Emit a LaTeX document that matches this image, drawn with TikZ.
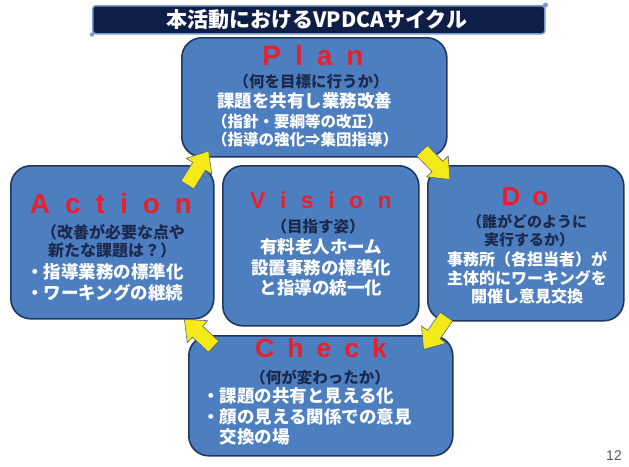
\documentclass[tikz,border=0pt]{standalone}
\usepackage{fontspec}
\newfontfamily\jpf{Noto Sans CJK JP}
\newfontfamily\hdf{Liberation Sans}
\newcommand\fsz[1]{\fontsize{#1}{#1}\selectfont}
\definecolor{boxfill}{HTML}{4D7FC0}
\definecolor{boxline}{HTML}{1F3763}
\definecolor{tfill}{HTML}{0E1E47}
\definecolor{tborder}{HTML}{7A9ACB}
\definecolor{headred}{HTML}{E8202A}
\definecolor{subnavy}{HTML}{1B2A4E}
\definecolor{yel}{HTML}{F4EA1A}
\definecolor{yelline}{HTML}{5A6478}
\definecolor{pgray}{HTML}{595959}
\tikzset{
  stagebox/.style={draw=boxline, fill=boxfill, line width=1.6pt, rounded corners=20pt, anchor=north west, inner sep=0pt},
  head/.style={text=headred, inner sep=0pt},
  subt/.style={text=subnavy, inner sep=0pt},
  bodyt/.style={text=white, inner sep=0pt},
  yarrow/.pic={\draw[fill=yel, draw=yelline, line width=0.6pt, line join=miter]
    (-20,-7.5) -- (2,-7.5) -- (2,-15) -- (20,0) -- (2,15) -- (2,7.5) -- (-20,7.5) -- cycle;}
}
\begin{document}
\begin{tikzpicture}[x=1pt,y=-1pt]
\fill[white] (0,0) rectangle (629,466);
\useasboundingbox (0,0) rectangle (629,466);

% title bar
\node[draw=tborder, fill=tfill, line width=1.5pt, rounded corners=3pt, minimum width=452pt, minimum height=28pt, anchor=north west, inner sep=0pt] (tbar) at (92,5) {};
\fill[tborder] (tbar.north east) circle (2.5pt);
\fill[tborder] (tbar.south west) circle (2.2pt);
\node[text=white, inner sep=0pt, font=\jpf\bfseries\fsz{21}] (title) at ([xshift=-2pt]tbar.center) {本活動におけるVPDCAサイクル};

% boxes
\node[stagebox, minimum width=265pt, minimum height=119pt] (plan) at (181,37) {};
\node[stagebox, minimum width=203pt, minimum height=153pt] (action) at (10,165) {};
\node[stagebox, minimum width=196pt, minimum height=160pt] (vision) at (222,165) {};
\node[stagebox, minimum width=196pt, minimum height=155pt] (do) at (427,165) {};
\node[stagebox, minimum width=264pt, minimum height=120pt] (check) at (188,335) {};

% Plan
\node[head, font=\hdf\bfseries\fsz{28}] (planh) at (313,55) {P\hspace{14pt}l\hspace{14pt}a\hspace{14pt}n};
\node[subt, font=\jpf\bfseries\fsz{15.5}] (plans) at (311,82) {（何を目標に行うか）};
\node[bodyt, font=\jpf\bfseries\fsz{17.5}, anchor=west] (planb1) at (217,101) {課題を共有し業務改善};
\node[bodyt, font=\jpf\bfseries\fsz{15.5}, anchor=west] (planb2) at (212,122) {（指針・要綱等の改正）};
\node[bodyt, font=\jpf\bfseries\fsz{15.5}, anchor=west] (planb3) at (212,140) {（指導の強化⇒集団指導）};

% Action
\node[head, font=\hdf\bfseries\fsz{28}] (acth) at (111,203) {A\hspace{15pt}c\hspace{15pt}t\hspace{15pt}i\hspace{15pt}o\hspace{15pt}n};
\node[subt, font=\jpf\bfseries\fsz{16}] (acts1) at (113,232) {（改善が必要な点や};
\node[subt, font=\jpf\bfseries\fsz{16}] (acts2) at (112,250) {新たな課題は？）};
\node[bodyt, font=\jpf\bfseries\fsz{17.5}, anchor=west] (actb1) at (26,272) {・指導業務の標準化};
\node[bodyt, font=\jpf\bfseries\fsz{17.5}, anchor=west] (actb2) at (26,293) {・ワーキングの継続};

% Vision
\node[head, font=\hdf\bfseries\fsz{23}] (vish) at (321,200) {V\hspace{14.5pt}i\hspace{14.5pt}s\hspace{14.5pt}i\hspace{14.5pt}o\hspace{14.5pt}n};
\node[subt, font=\jpf\bfseries\fsz{15.5}] (viss) at (318,227) {（目指す姿）};
\node[bodyt, font=\jpf\bfseries\fsz{17.5}] (visb1) at (321,247) {有料老人ホーム};
\node[bodyt, font=\jpf\bfseries\fsz{17.5}] (visb2) at (321,268) {設置事務の標準化};
\node[bodyt, font=\jpf\bfseries\fsz{17.5}] (visb3) at (321,288) {と指導の統一化};

% Do
\node[head, font=\hdf\bfseries\fsz{26}] (doh) at (525,197) {D\hspace{12pt}o};
\node[subt, font=\jpf\bfseries\fsz{15}] (dos1) at (527,222) {（誰がどのように};
\node[subt, font=\jpf\bfseries\fsz{15}] (dos2) at (529,240) {実行するか）};
\node[bodyt, font=\jpf\bfseries\fsz{16}] (dob1) at (527,259) {事務所（各担当者）が};
\node[bodyt, font=\jpf\bfseries\fsz{16}] (dob2) at (527,278) {主体的にワーキングを};
\node[bodyt, font=\jpf\bfseries\fsz{16}] (dob3) at (527,296) {開催し意見交換};

% Check
\node[head, font=\hdf\bfseries\fsz{26.5}] (chkh) at (321,348) {C\hspace{13pt}h\hspace{13pt}e\hspace{13pt}c\hspace{13pt}k};
\node[subt, font=\jpf\bfseries\fsz{15.5}] (chks) at (320,377) {（何が変わったか）};
\node[bodyt, font=\jpf\bfseries\fsz{17.5}, anchor=west] (chkb1) at (202,396) {・課題の共有と見える化};
\node[bodyt, font=\jpf\bfseries\fsz{17.5}, anchor=west] (chkb2) at (202,417) {・顔の見える関係での意見};
\node[bodyt, font=\jpf\bfseries\fsz{17.5}, anchor=west] (chkb3) at (219.5,437) {交換の場};

% cycle arrows
\pic[rotate=58] at (198,168) {yarrow};
\pic[rotate=-46] at (436,165) {yarrow};
\pic[rotate=-125] at (435,333) {yarrow};
\pic[rotate=137] at (199,333) {yarrow};

% page number
\node[text=pgray, inner sep=0pt, font=\hdf\fsz{14}] (pnum) at (614,456) {12};
\end{tikzpicture}
\end{document}
